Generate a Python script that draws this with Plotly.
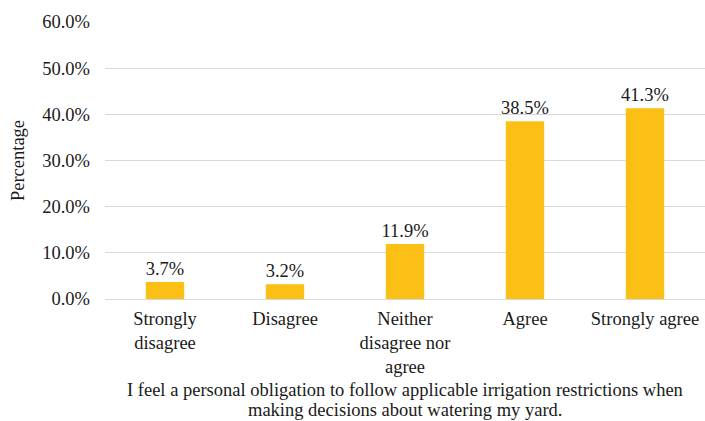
import plotly.graph_objects as go

categories = ["Strongly<br>disagree", "Disagree", "Neither<br>disagree nor<br>agree", "Agree", "Strongly agree"]
values = [3.7, 3.2, 11.9, 38.5, 41.3]
labels = ["3.7%", "3.2%", "11.9%", "38.5%", "41.3%"]
ytick_vals = [0, 10, 20, 30, 40, 50, 60]
ytick_text = ["0.0%", "10.0%", "20.0%", "30.0%", "40.0%", "50.0%", "60.0%"]
x_title_lines = ["I feel a personal obligation to follow applicable irrigation restrictions when",
                 "making decisions about watering my yard."]
y_title = "Percentage"

FONT = "'Liberation Serif', 'Times New Roman', serif"
TXT = "#1a1a1a"

fig = go.Figure(go.Bar(
    x=categories, y=values, text=labels, textposition="outside",
    marker=dict(color="#FCBF16", line=dict(width=0)),
    width=0.32, cliponaxis=False, constraintext="none",
    textfont=dict(family=FONT, size=18.5, color=TXT),
))

for i, line in enumerate(x_title_lines):
    fig.add_annotation(
        text=line, xref="paper", yref="paper", x=0.5, y=0,
        xanchor="center", yanchor="middle", yshift=-91 - 20 * i,
        showarrow=False, borderpad=0,
        font=dict(family=FONT, size=18.5, color=TXT),
    )

fig.update_layout(
    width=705, height=421,
    margin=dict(l=105, r=0, t=22, b=122, autoexpand=False),
    paper_bgcolor="white", plot_bgcolor="white",
    font=dict(family=FONT, size=18.5, color=TXT),
    showlegend=False,
    xaxis=dict(
        showgrid=False, showline=False, zeroline=False, ticks="",
        tickfont=dict(family=FONT, size=18.5, color=TXT),
        ticklabelstandoff=6,
        automargin=False,
    ),
    yaxis=dict(
        range=[0, 60], tickvals=ytick_vals, ticktext=ytick_text,
        showgrid=True, gridcolor="#D9D9D9", gridwidth=1,
        zeroline=True, zerolinecolor="#D9D9D9", zerolinewidth=1.3,
        showline=False, ticks="",
        ticklabelstandoff=14,
        tickfont=dict(family=FONT, size=18.5, color=TXT),
        title=dict(text=y_title, font=dict(family=FONT, size=18.5, color=TXT), standoff=12),
        automargin=False,
    ),
)

fig.write_html("out.html")
